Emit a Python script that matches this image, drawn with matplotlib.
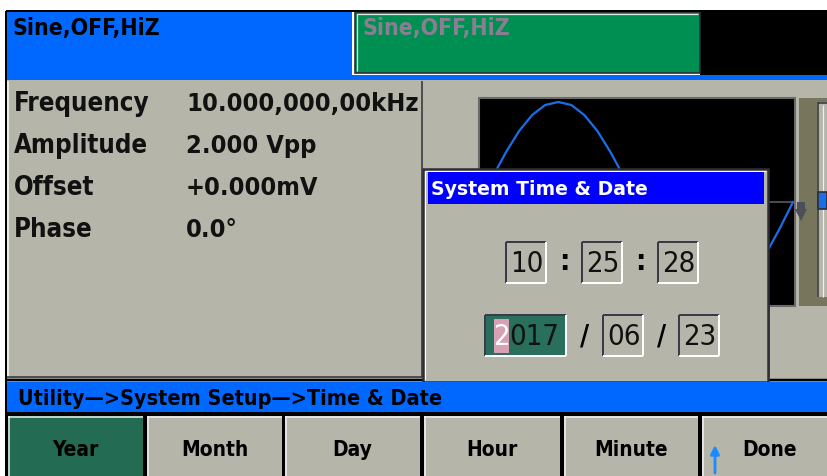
import matplotlib
matplotlib.use("Agg")
import matplotlib.pyplot as plt
from matplotlib.patches import Rectangle, Polygon

# Screen size in pixels
W, H = 827, 477

# ---------------------------------------------------------------------------
# Screen content
# ---------------------------------------------------------------------------
channel_status = ["Sine,OFF,HiZ", "Sine,OFF,HiZ"]
param_names = ["Frequency", "Amplitude", "Offset", "Phase"]
param_values = ["10.000,000,00kHz", "2.000 Vpp", "+0.000mV", "0.0°"]
dialog_title = "System Time & Date"
time_fields = ["10", "25", "28"]
date_fields = ["2017", "06", "23"]
menu_path = "Utility—>System Setup—>Time & Date"
soft_keys = ["Year", "Month", "Day", "Hour", "Minute", "Done"]
active_key = "Year"

# sine preview: level read every 15 degrees over one period
wave_phase = [0, 15, 30, 45, 60, 75, 90, 105, 120, 135, 150, 165, 180,
              195, 210, 225, 240, 255, 270, 285, 300, 315, 330, 345, 360]
wave_level = [0.0, 0.26, 0.5, 0.71, 0.87, 0.97, 1.0, 0.97, 0.87, 0.71, 0.5, 0.26, 0.0,
              -0.26, -0.5, -0.71, -0.87, -0.97, -1.0, -0.97, -0.87, -0.71, -0.5, -0.26, 0.0]

# colours
GRAY = "#b6b5aa"
BLUE_BAR = "#0068ff"
GREEN_TAB = "#008f52"
TITLE_BLUE = "#0000ff"
KEY_GREEN = "#236b53"
DATE_GREEN = "#28705b"
PINK = "#d8a0b2"
WAVE = "#1a6ee8"
DARK = "#2e2e36"
OLIVE = "#77765d"

FONT = dict(family="DejaVu Sans", fontstretch="condensed")


def box(ax, x0, y0, x1, y1, color, z=1, edge="none", lw=0):
    ax.add_patch(Rectangle((x0, y0), x1 - x0, y1 - y0, facecolor=color,
                           edgecolor=edge, linewidth=lw, zorder=z))


def line(ax, xs, ys, color, px=1.0, z=2):
    ax.plot(xs, ys, color=color, linewidth=px * 0.72, zorder=z,
            solid_capstyle="butt")


def bevel(ax, x0, y0, x1, y1, light, dark, px=1.5, z=2):
    line(ax, [x0, x1], [y0, y0], light, px, z)
    line(ax, [x0, x0], [y0, y1], light, px, z)
    line(ax, [x0, x1], [y1, y1], dark, px, z)
    line(ax, [x1, x1], [y0, y1], dark, px, z)


def pixel_axes(fig, z):
    a = fig.add_axes([0, 0, 1, 1], zorder=z)
    a.set_xlim(0, W)
    a.set_ylim(H, 0)
    a.axis("off")
    a.patch.set_visible(False)
    return a


fig = plt.figure(figsize=(W / 100, H / 100), dpi=100, facecolor="white")
ax = pixel_axes(fig, 0)

# ---------------------------------------------------------------------------
# Top status bar
# ---------------------------------------------------------------------------
line(ax, [6, W], [12, 12], "black", 2)
line(ax, [6, 6], [12, H], "black", 2)
box(ax, 7, 13, 352, 81, BLUE_BAR)
box(ax, 352, 76, W, 81, BLUE_BAR)
box(ax, 700, 13, W, 76, "black")
box(ax, 355, 13, 700, 74, GREEN_TAB, edge=DARK, lw=1.2)
line(ax, [357, 357], [15, 72], "#e8e8e8", 1.2, 3)
line(ax, [357, 698], [15, 15], "#e8e8e8", 1.2, 3)
ax.text(12, 29, channel_status[0], color="black", fontsize=16.5, fontweight="bold",
        va="center", ha="left", **FONT)
ax.text(362, 29, channel_status[1], color="#8a7f92", fontsize=16.5, fontweight="bold",
        va="center", ha="left", **FONT)

# ---------------------------------------------------------------------------
# Main area
# ---------------------------------------------------------------------------
box(ax, 7, 81, W, 414, GRAY)
line(ax, [8, 8], [82, 378], "white", 1.5)
line(ax, [422, 422], [82, 378], DARK, 1.5)
line(ax, [7, 423], [378, 378], DARK, 1.5)
line(ax, [7, W], [381, 381], "black", 2.5)

for i, (name, val) in enumerate(zip(param_names, param_values)):
    y = 104 + 42 * i
    ax.text(14, y, name, color="#111111", fontsize=18.5, fontweight="bold",
            va="center", ha="left", **FONT)
    ax.text(186, y, val, color="#111111", fontsize=18.3, fontweight="bold",
            va="center", ha="left", **FONT)

# waveform preview
box(ax, 479, 99, 795, 307, "black", z=1, edge="#6a6a6a", lw=1.5)
line(ax, [481, 793], [203, 203], "#4b4b55", 2)
ax.add_patch(Polygon([[797, 203], [805, 203], [805, 210], [807, 210], [801, 222],
                      [795, 210], [797, 210]], closed=True,
                     facecolor="#4e4e58", edgecolor="none", zorder=3))

# right side slider frame
box(ax, 799, 99, W, 307, OLIVE)
box(ax, 817, 103, W, 298, GRAY)
line(ax, [818, 818], [103, 298], DARK, 1.5, 3)
line(ax, [818, W], [104, 104], DARK, 1.5, 3)
line(ax, [823, 823], [106, 298], "#f0f0f0", 1.2, 3)
box(ax, 818, 193, W, 210, WAVE, z=4, edge=DARK, lw=1.2)
line(ax, [769, 769], [307, 378], DARK, 1.5)

scope = fig.add_axes([480 / W, 1 - 303 / H, 313 / W, 200 / H], zorder=1)
scope.set_xlim(wave_phase[0], wave_phase[-1])
scope.set_ylim(-1, 1)
scope.axis("off")
scope.patch.set_visible(False)
scope.plot(wave_phase, wave_level, color=WAVE, linewidth=1.6, clip_on=False)

# ---------------------------------------------------------------------------
# Time & date dialog
# ---------------------------------------------------------------------------
dlg = pixel_axes(fig, 2)
box(dlg, 423, 170, 768, 383, GRAY, edge=DARK, lw=1.8)
line(dlg, [425, 766], [172, 172], "white", 1.2, 3)
line(dlg, [425, 425], [172, 381], "white", 1.2, 3)
box(dlg, 428, 173, 764, 205, TITLE_BLUE, z=3)
dlg.text(431, 190, dialog_title, color="white", fontsize=13.6, fontweight="bold",
         va="center", ha="left", family="DejaVu Sans")

DIGITS = dict(color="#111111", fontsize=21, va="center", zorder=5, **FONT)

time_boxes = [(506, 546), (582, 622), (658, 698)]
for (x0, x1), val in zip(time_boxes, time_fields):
    box(dlg, x0, 243, x1, 284, GRAY, z=3)
    bevel(dlg, x0, 243, x1, 284, "#3a3a4a", "white", 2, 4)
    dlg.text((x0 + x1) / 2 + 1, 264, val, ha="center", **DIGITS)
for x in (564, 640):
    dlg.text(x, 262, ":", color="black", fontsize=21, fontweight="bold",
             va="center", ha="center", zorder=5, **FONT)

date_boxes = [(485, 566), (603, 643), (679, 719)]
for k, ((x0, x1), val) in enumerate(zip(date_boxes, date_fields)):
    box(dlg, x0, 316, x1, 357, DATE_GREEN if k == 0 else GRAY, z=3)
    bevel(dlg, x0, 316, x1, 357, "#3a3a4a", "white", 2, 4)
    if k == 0:
        # first digit is the cursor position
        box(dlg, 494, 320, 509, 354, PINK, z=4)
        dlg.text(501.5, 337, val[0], ha="center",
                 **{**DIGITS, "color": "white"})
        dlg.text(509, 337, val[1:], ha="left", **DIGITS)
    else:
        dlg.text((x0 + x1) / 2 + 1, 337, val, ha="center", **DIGITS)
for x in (585, 662):
    dlg.text(x, 337, "/", color="black", fontsize=20, fontweight="bold",
             va="center", ha="center", zorder=5, **FONT)

# ---------------------------------------------------------------------------
# Menu path and soft keys
# ---------------------------------------------------------------------------
box(dlg, 7, 383, W, 413, BLUE_BAR, z=3)
dlg.text(18, 399, menu_path, color="black", fontsize=15.5, fontweight="bold",
         va="center", ha="left", zorder=4, **FONT)

box(dlg, 7, 413, W, H, "black", z=3)
key_edges = [(8, 143), (147, 282), (285, 420), (424, 560), (564, 698), (702, W + 2)]
for (x0, x1), label in zip(key_edges, soft_keys):
    box(dlg, x0, 417, x1, H + 2, KEY_GREEN if label == active_key else GRAY, z=4)
    line(dlg, [x0, x1], [418, 418], "#f2f2f2", 1.5, 5)
    line(dlg, [x0 + 1, x0 + 1], [417, H], "#f2f2f2", 1.5, 5)
    cx = (x0 + x1) / 2 if label != "Done" else 770
    dlg.text(cx, 450, label, color="black", fontsize=15, fontweight="bold",
             va="center", ha="center", zorder=6, **FONT)
dlg.annotate("", xy=(715, 446), xytext=(715, 474), zorder=6,
             arrowprops=dict(arrowstyle="-|>", color="#1a8cff", lw=2,
                             mutation_scale=13, shrinkA=0, shrinkB=0))

fig.savefig("out.png", dpi=100, facecolor="white")
plt.close(fig)
